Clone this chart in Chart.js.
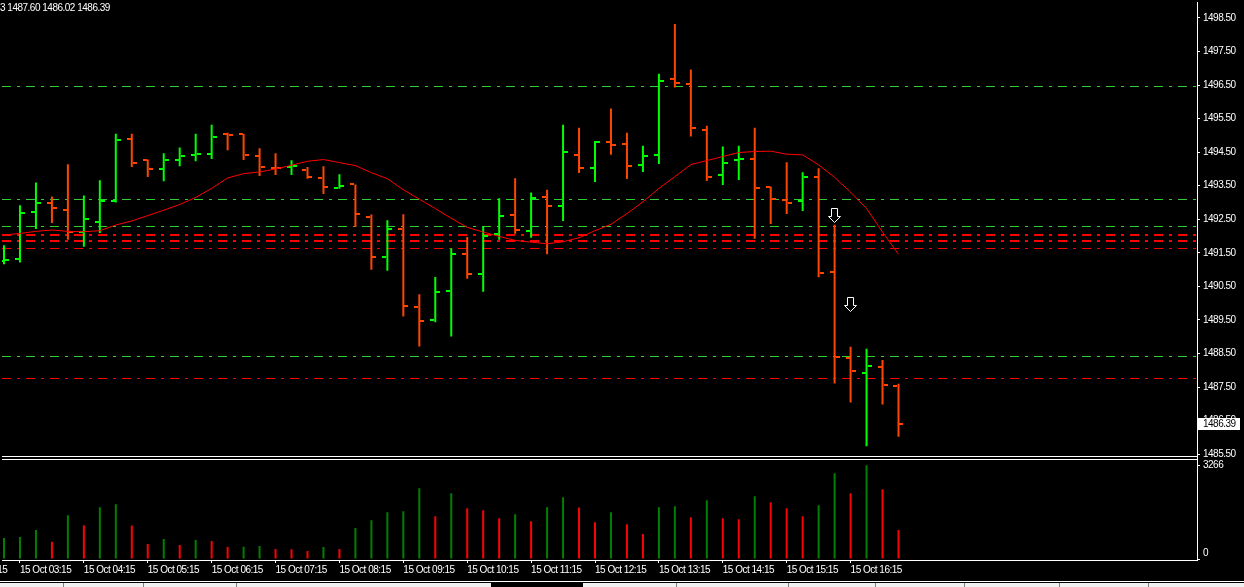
<!DOCTYPE html>
<html>
<head>
<meta charset="utf-8">
<script src="https://cdn.jsdelivr.net/npm/chart.js@4.4.1/dist/chart.umd.min.js"></script>
<style>
html,body{margin:0;padding:0;background:#000;overflow:hidden}
#wrap{width:1244px;height:587px;position:relative}
canvas{display:block}
</style>
</head>
<body>
<div id="wrap"><canvas id="c" width="1244" height="587"></canvas></div>
<script>
// ---------------- DATA ----------------
const barTimes = ["03:00","03:15","03:30","03:45","04:00","04:15","04:30","04:45","05:00","05:15",
"05:30","05:45","06:00","06:15","06:30","06:45","07:00","07:15","07:30","07:45",
"08:00","08:15","08:30","08:45","09:00","09:15","09:30","09:45","10:00","10:15",
"10:30","10:45","11:00","11:15","11:30","11:45","12:00","12:15","12:30","12:45",
"13:00","13:15","13:30","13:45","14:00","14:15","14:30","14:45","15:00","15:15",
"15:30","15:45","16:00","16:15","16:30","16:45","17:00"];

const opens = [1491.25,1491.33,1492.72,1492.99,1492.78,1492.11,1492.42,1493.04,1494.88,1494.27,
1494.00,1494.27,1494.41,1494.46,1495.03,1495.04,1494.39,1494.04,1494.06,1493.97,
1493.73,1493.43,1493.54,1492.57,1491.39,1492.21,1489.90,1489.51,1490.37,1491.47,
1490.88,1492.07,1492.63,1492.15,1493.16,1492.90,1494.42,1494.03,1494.79,1494.73,
1494.12,1494.42,1496.67,1496.53,1495.15,1493.82,1494.27,1494.30,1493.46,1493.07,
1493.04,1493.76,1490.94,1488.36,1487.93,1488.09,1487.53];

const highs = [1491.73,1492.92,1493.60,1493.18,1494.14,1493.21,1493.66,1495.05,1495.05,1494.28,
1494.47,1494.64,1495.05,1495.32,1495.08,1495.04,1494.62,1494.47,1494.26,1494.06,
1494.08,1493.84,1493.54,1492.64,1492.47,1492.65,1490.27,1490.78,1491.64,1491.97,
1492.28,1493.13,1493.72,1493.30,1493.38,1495.32,1495.23,1494.83,1495.80,1495.08,
1494.69,1496.84,1498.32,1496.96,1495.29,1494.67,1494.69,1495.23,1493.48,1494.20,
1493.90,1494.02,1492.34,1488.70,1488.64,1488.31,1487.60];

const lows = [1491.16,1491.21,1492.21,1492.39,1491.89,1491.68,1492.09,1493.00,1494.06,1493.76,
1493.63,1494.08,1494.23,1494.30,1494.56,1494.27,1493.79,1493.82,1493.82,1493.71,
1493.25,1493.41,1492.27,1491.00,1490.97,1489.60,1488.71,1489.43,1489.01,1490.73,
1490.34,1491.89,1492.07,1491.95,1491.46,1492.45,1493.88,1493.61,1494.42,1493.70,
1493.91,1494.15,1496.43,1494.97,1493.64,1493.52,1493.67,1491.92,1492.36,1492.66,
1492.75,1490.77,1487.61,1487.04,1485.74,1486.98,1486.02];

const closes = [1491.30,1492.69,1492.99,1492.84,1492.12,1492.51,1493.04,1494.85,1494.18,1494.00,
1494.27,1494.39,1494.44,1494.94,1495.01,1494.42,1494.06,1494.02,1494.08,1493.75,
1493.46,1493.50,1492.66,1491.39,1492.21,1489.92,1489.48,1490.34,1491.47,1490.88,
1492.01,1492.59,1492.17,1493.13,1492.90,1494.51,1494.03,1494.79,1494.70,1494.09,
1494.39,1496.61,1496.55,1495.21,1493.76,1494.18,1494.30,1493.43,1493.10,1492.99,
1493.76,1490.90,1488.41,1487.97,1488.12,1487.55,1486.39];

const volumes = [730,764,1007,601,1529,1181,1807,1911,1170,521,
695,486,660,625,417,425,452,347,340,278,
417,347,1077,1355,1633,1668,2467,1494,2293,1772,
1702,1424,1563,1320,1807,2154,1800,1285,1633,1216,
869,1807,1841,1459,2050,1424,1390,2189,1980,1772,
1494,1876,2988,2293,3266,2432,1007];

const maValues = [1492.03,1492.08,1492.14,1492.18,1492.14,1492.13,1492.16,1492.33,1492.45,1492.61,
1492.77,1492.94,1493.15,1493.42,1493.73,1493.86,1493.91,1494.00,1494.11,1494.23,
1494.28,1494.19,1494.10,1493.89,1493.71,1493.38,1493.10,1492.82,1492.53,1492.26,
1492.12,1491.99,1491.87,1491.82,1491.77,1491.83,1491.95,1492.16,1492.35,1492.67,
1493.02,1493.42,1493.77,1494.13,1494.25,1494.37,1494.49,1494.52,1494.53,1494.44,
1494.42,1494.12,1493.75,1493.31,1492.82,1492.12,1491.46];

const levelPrices = [1496.47,1493.09,1492.29,1492.02,1491.84,1491.63,1488.43,1487.77];

const arrowBars = [52,53];
const arrowPrices = [1492.39,1489.75];

const priceTicks = [1498.5,1497.5,1496.5,1495.5,1494.5,1493.5,1492.5,1491.5,1490.5,1489.5,1488.5,1487.5,1486.5,1485.5];
const xTickBars = [-3,1,5,9,13,17,21,25,29,33,37,41,45,49,53];
const xTickLabels = ["15 Oct 02:15","15 Oct 03:15","15 Oct 04:15","15 Oct 05:15","15 Oct 06:15","15 Oct 07:15",
"15 Oct 08:15","15 Oct 09:15","15 Oct 10:15","15 Oct 11:15","15 Oct 12:15","15 Oct 13:15","15 Oct 14:15",
"15 Oct 15:15","15 Oct 16:15"];

// ---------------- STYLES ----------------
const UP = '#00FF00', DOWN = '#FF4500';
const VOL_UP = '#008000', VOL_DOWN = '#FF0000';
const levelColors = ['#32CD32','#32CD32','#32CD32','#FF0000','#FF0000','#FF0000','#32CD32','#FF0000'];
const levelWidths = [1,1,1,2,2,1,1,1];

const FAMILY = "'Liberation Sans', Arial, sans-serif";
const FSIZE = 10;
const SPACING = '-0.5px';
Chart.defaults.font.family = FAMILY;
Chart.defaults.font.size = FSIZE;
Chart.defaults.color = '#FFFFFF';

function tickImg(color, side){
  const cv = document.createElement('canvas'); cv.width = 10; cv.height = 2;
  const g = cv.getContext('2d'); g.fillStyle = color; g.fillRect(side < 0 ? 0 : 6, 0, 4, 2);
  return cv;
}
const openUp = tickImg(UP,-1), openDn = tickImg(DOWN,-1), closeUp = tickImg(UP,1), closeDn = tickImg(DOWN,1);
function arrowImg(){
  const cv = document.createElement('canvas'); cv.width = 16; cv.height = 32;
  const g = cv.getContext('2d');
  g.beginPath();
  g.moveTo(4.5,1.5); g.lineTo(10.5,1.5); g.lineTo(10.5,9.5); g.lineTo(13.5,9.5);
  g.lineTo(7.5,15.5); g.lineTo(1.5,9.5); g.lineTo(4.5,9.5); g.closePath();
  g.fillStyle = '#000'; g.fill();
  g.strokeStyle = '#FFFFFF'; g.lineWidth = 1; g.stroke();
  return cv;
}
const ARROW = arrowImg();
const isUp = i => closes[i] >= opens[i];

// ---------------- PLUGINS ----------------
const bgPlugin = {
  id: 'bg',
  beforeDraw(c){
    const g = c.ctx;
    g.save(); g.fillStyle = '#000'; g.fillRect(0,0,c.width,c.height); g.restore();
    g.letterSpacing = SPACING;
  }
};
const levelsPlugin = {
  id: 'levels',
  beforeDatasetsDraw(c){
    const g = c.ctx, a = c.chartArea, y = c.scales.y;
    g.save();
    g.beginPath(); g.rect(a.left, y.top, a.right - a.left, y.bottom - y.top); g.clip();
    g.setLineDash([9,6,3,6]);
    levelPrices.forEach((p,k) => {
      const w = levelWidths[k];
      let py = y.getPixelForValue(p);
      py = (w % 2) ? Math.round(py) + 0.5 : Math.round(py);
      g.strokeStyle = levelColors[k]; g.lineWidth = w;
      g.beginPath(); g.moveTo(a.left, py); g.lineTo(a.right, py); g.stroke();
    });
    g.restore();
    g.imageSmoothingEnabled = false;
  }
};
const framePlugin = {
  id: 'frame',
  afterDraw(c){
    const g = c.ctx, a = c.chartArea, y = c.scales.y, yv = c.scales.yv;
    g.save();
    g.letterSpacing = SPACING;
    g.fillStyle = '#FFFFFF';
    // pane separators
    g.fillRect(a.left, Math.round(y.bottom) - 2, a.right - a.left + 1, 1);
    g.fillRect(a.left, Math.round(yv.top) + 1, a.right - a.left + 1, 1);
    // current price box
    const last = closes[closes.length - 1];
    const py = Math.round(y.getPixelForValue(last));
    g.fillRect(y.left + 1, py - 6, 42, 12);
    g.fillStyle = '#000';
    g.font = FSIZE + 'px ' + FAMILY;
    g.textBaseline = 'middle'; g.textAlign = 'left';
    g.fillText(last.toFixed(2), y.left + 6, py + 0.5);
    // header text (OHLC of last bar, cut at left edge)
    const n = closes.length - 1;
    const parts = [opens[n], highs[n], lows[n], closes[n]].map(v => v.toFixed(2));
    const full = parts.join(' ');
    const cut = g.measureText(parts[0].slice(0, -1)).width;
    g.fillStyle = '#FFFFFF';
    g.fillText(full, -cut, 8);
    // bottom tab strip
    const H = c.height, W = c.width;
    g.fillStyle = '#FFFFFF'; g.fillRect(0, H - 6, W, 1);
    g.fillStyle = '#F0F0F0';
    g.fillRect(0, H - 4, 491, 4);
    g.fillRect(583, H - 4, W - 583, 4);
    g.fillStyle = '#808080';
    [63,143,236,676,788,875,964,1059,1148].forEach(x => g.fillRect(x, H - 4, 1, 4));
    g.restore();
  }
};

// ---------------- CHART ----------------
const idx = barTimes.map((t,i) => i);
new Chart(document.getElementById('c'), {
  type: 'bar',
  data: {
    labels: barTimes,
    datasets: [
      {
        type: 'scatter', label: 'arrows', order: 0, yAxisID: 'y', xAxisID: 'x',
        data: arrowBars.map((b,k) => ({x: b, y: arrowPrices[k]})),
        pointStyle: ARROW, pointRadius: 1, pointHoverRadius: 1
      },
      {
        type: 'line', label: 'MA', order: 1, yAxisID: 'y', xAxisID: 'x',
        data: maValues.map((v,i) => ({x: i, y: v})),
        borderColor: '#FF0000', borderWidth: 1, pointRadius: 0, tension: 0, fill: false
      },
      {
        type: 'scatter', label: 'open', order: 2, yAxisID: 'y', xAxisID: 'x',
        data: opens.map((v,i) => ({x: i, y: v})),
        pointStyle: ctx => isUp(ctx.dataIndex) ? openUp : openDn, pointRadius: 1, pointHoverRadius: 1
      },
      {
        type: 'scatter', label: 'close', order: 2, yAxisID: 'y', xAxisID: 'x',
        data: closes.map((v,i) => ({x: i, y: v})),
        pointStyle: ctx => isUp(ctx.dataIndex) ? closeUp : closeDn, pointRadius: 1, pointHoverRadius: 1
      },
      {
        type: 'bar', label: 'range', order: 3, yAxisID: 'y', xAxisID: 'x',
        data: idx.map(i => ({x: i, y: [lows[i], highs[i]]})),
        backgroundColor: idx.map(i => isUp(i) ? UP : DOWN),
        barThickness: 2, grouped: false, inflateAmount: 0, borderWidth: 0
      },
      {
        type: 'bar', label: 'volume', order: 4, yAxisID: 'yv', xAxisID: 'x',
        data: volumes.map((v,i) => ({x: i, y: v})),
        backgroundColor: volumes.map((v,i) => (i === 0 || v > volumes[i-1]) ? VOL_UP : VOL_DOWN),
        barThickness: 2, grouped: false, inflateAmount: 0, borderWidth: 0
      }
    ]
  },
  options: {
    responsive: false, animation: false, devicePixelRatio: 1, events: [],
    layout: { padding: { left: 0, right: 0, top: 0, bottom: 6 } },
    plugins: { legend: { display: false }, tooltip: { enabled: false } },
    scales: {
      x: {
        type: 'linear', position: 'bottom', min: -0.125, max: 74.6875, offset: false,
        grid: { display: true, drawOnChartArea: false, drawTicks: true, tickLength: 3, color: '#FFFFFF', offset: false },
        border: { display: true, color: '#FFFFFF' },
        ticks: { autoSkip: false, maxRotation: 0, minRotation: 0, align: 'start', padding: 1, color: '#FFFFFF',
                 callback: (v, i) => xTickLabels[i] },
        afterBuildTicks: ax => { ax.ticks = xTickBars.map(v => ({value: v})); },
        afterFit: ax => { ax.height = 21; ax.paddingLeft = 0; ax.paddingRight = 0; }
      },
      y: {
        type: 'linear', position: 'right', stack: 'panes', stackWeight: 458,
        min: 1485.376, max: 1498.975,
        grid: { display: true, drawOnChartArea: false, drawTicks: true, tickLength: 3, color: '#FFFFFF' },
        border: { display: true, color: '#FFFFFF' },
        ticks: { autoSkip: false, padding: 3, color: '#FFFFFF', callback: v => Number(v).toFixed(2) },
        afterBuildTicks: ax => { ax.ticks = priceTicks.map(v => ({value: v})); },
        afterFit: ax => { ax.width = 47; ax.paddingTop = 0; ax.paddingBottom = 0; }
      },
      yv: {
        type: 'linear', position: 'right', stack: 'panes', stackWeight: 102,
        min: -34.7, max: 3509,
        grid: { display: true, drawOnChartArea: false, drawTicks: true, tickLength: 3, color: '#FFFFFF' },
        border: { display: true, color: '#FFFFFF' },
        ticks: { autoSkip: false, padding: 3, color: '#FFFFFF', callback: v => v === 0 ? ['0',''] : String(v) },
        afterBuildTicks: ax => { ax.ticks = [Math.max(...volumes), 0].map(v => ({value: v})); },
        afterFit: ax => { ax.width = 47; ax.paddingTop = 0; ax.paddingBottom = 0; }
      }
    }
  },
  plugins: [bgPlugin, levelsPlugin, framePlugin]
});
</script>
</body>
</html>
